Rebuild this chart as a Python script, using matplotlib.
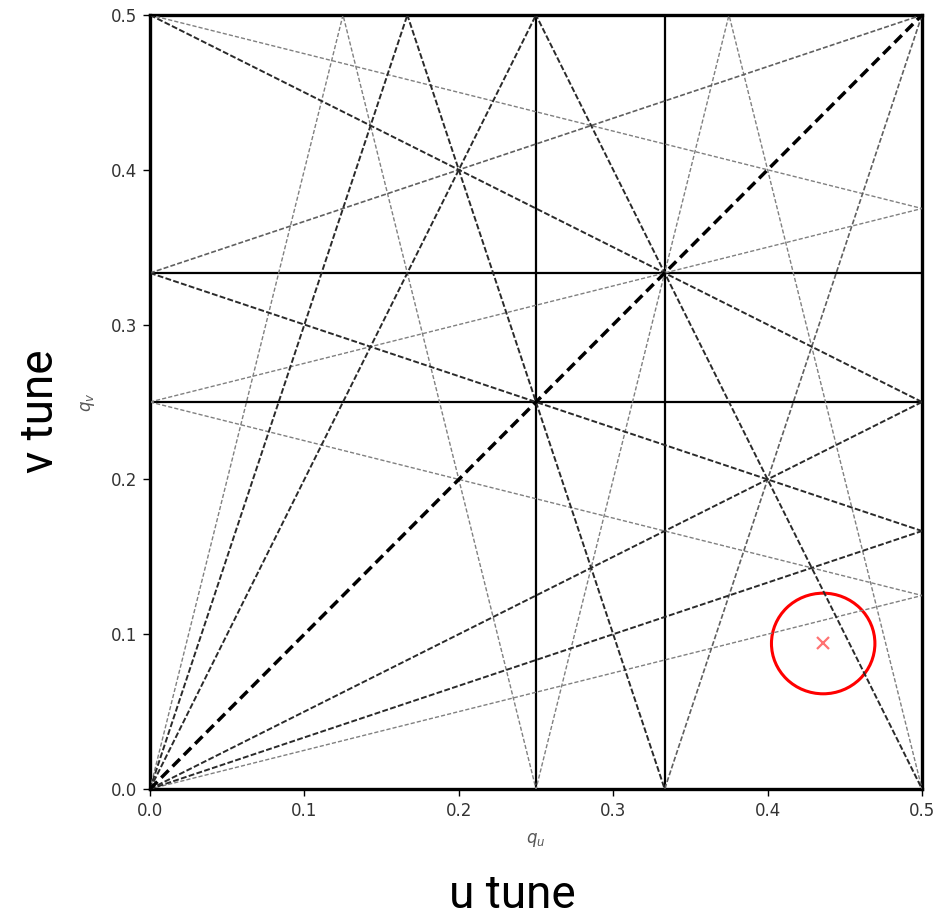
import numpy as np
import matplotlib.pyplot as plt
from matplotlib.patches import Ellipse

# Резонансні лінії вигляду m*qu + n*qv = p
# одноплощинні (суцільні) лінії
solid_qu = [0.25, 1/3]
solid_qv = [0.25, 1/3]
edge_vals = [0.0, 0.5]

# діагональ qu - qv = 0
diag_m, diag_n, diag_p = [1], [-1], [0]

# темні штрихові
dark_m = [2, 1, 2, 1, 3, 1, 3, 1]
dark_n = [1, 2, -1, -2, 1, 3, -1, -3]
dark_p = [1, 1, 0, 0, 1, 1, 0, 0]

# середні штрихові
mid_m = [-1, 3]
mid_n = [3, -1]
mid_p = [1, 1]

# світлі пунктирні
light_m = [4, 1, 4, 1, 4, -1, 4, 1]
light_n = [1, 4, -1, -4, -1, 4, 1, 4]
light_p = [1, 1, 0, 0, 1, 1, 2, 2]

# робоча точка
tune_u = [0.436]
tune_v = [0.094]


def draw_lines(ax, ms, ns, ps, **kw):
    qu = np.array([0.0, 0.5])
    for m, n, p in zip(ms, ns, ps):
        if n != 0:
            ax.plot(qu, (p - m * qu) / n, **kw)
        else:
            ax.plot([p / m, p / m], [0, 0.5], **kw)


fig = plt.figure(figsize=(9.41, 9.17), dpi=100)
ax = fig.add_axes([150/941, 1 - 789/917, 772/941, 774/917])

for v in solid_qu:
    ax.axvline(v, color='black', lw=1.6)
for v in solid_qv:
    ax.axhline(v, color='black', lw=1.6)
for v in edge_vals:
    ax.axvline(v, color='black', lw=2.4, clip_on=False)
    ax.axhline(v, color='black', lw=2.4, clip_on=False)

draw_lines(ax, light_m, light_n, light_p, color='#808080', lw=1.0,
           linestyle=(0, (3, 1.5)))
draw_lines(ax, mid_m, mid_n, mid_p, color='#606060', lw=1.2,
           linestyle=(0, (3, 1.3)))
draw_lines(ax, dark_m, dark_n, dark_p, color='#2a2a2a', lw=1.4,
           linestyle=(0, (3, 1.2)))
draw_lines(ax, diag_m, diag_n, diag_p, color='black', lw=2.5,
           linestyle=(0, (3, 1.6)))

ax.plot(tune_u, tune_v, 'x', color='red', alpha=0.55, ms=8, mew=1.6)
ax.add_patch(Ellipse((tune_u[0], tune_v[0]), 0.067, 0.065, fill=False,
                     edgecolor='red', lw=2.2))

ax.set_xlim(0, 0.5)
ax.set_ylim(0, 0.5)
ax.set_xticks(np.arange(0, 0.51, 0.1))
ax.set_yticks(np.arange(0, 0.51, 0.1))
ax.tick_params(length=5, width=1, pad=4.5, labelsize=12, labelcolor='#333333')
ax.set_xlabel('$q_u$', fontsize=12, color='#555555', labelpad=8)
ax.set_ylabel('$q_v$', fontsize=12, color='#555555', labelpad=10)

fig.text(512.5/941, 1 - 908/917, 'u tune', family='Roboto', fontsize=33,
         ha='center', va='baseline')
fig.text(53/941, 1 - 411/917, 'v tune', family='Roboto', fontsize=33,
         rotation=90, rotation_mode='anchor', ha='center', va='baseline')

fig.savefig('out.png', dpi=100)
